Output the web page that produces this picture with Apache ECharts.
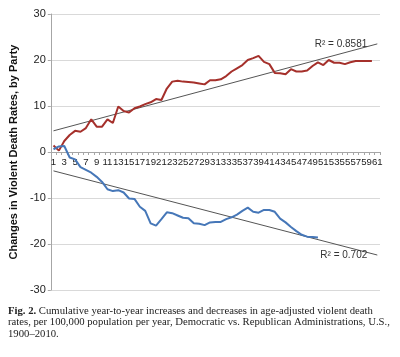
<!DOCTYPE html>
<html>
<head>
<meta charset="utf-8">
<script src="https://cdn.jsdelivr.net/npm/echarts@6/dist/echarts.min.js"></script>
<style>
html,body{margin:0;padding:0;background:#fff;}
#c{width:400px;height:357px;}
</style>
</head>
<body>
<div id="c"></div>
<script>
// categories 1..61
const categories = ['1','2','3','4','5','6','7','8','9','10','11','12','13','14','15','16','17','18','19','20','21','22','23','24','25','26','27','28','29','30','31','32','33','34','35','36','37','38','39','40','41','42','43','44','45','46','47','48','49','50','51','52','53','54','55','56','57','58','59','60','61'];

// Red series values for categories 1..60
const redValues = [1.4,0.3,2.4,3.7,4.6,4.4,5.2,7.1,5.5,5.5,7.1,6.3,9.9,8.9,8.6,9.5,9.9,10.4,10.8,11.5,11.3,13.8,15.3,15.5,15.3,15.2,15.1,14.9,14.7,15.6,15.6,15.8,16.5,17.5,18.2,18.9,20.0,20.4,20.9,19.6,19.1,17.2,17.1,16.9,18.0,17.5,17.5,17.7,18.7,19.5,18.9,20.0,19.4,19.4,19.1,19.5,19.8,19.8,19.8,19.8];

// Blue series values for categories 1..50
const blueValues = [0.6,1.2,1.3,-1.2,-1.6,-3.3,-3.9,-4.5,-5.4,-6.5,-8.1,-8.5,-8.3,-8.8,-10.1,-10.2,-11.9,-12.8,-15.5,-16.0,-14.6,-13.1,-13.3,-13.8,-14.3,-14.4,-15.5,-15.6,-15.9,-15.3,-15.2,-15.2,-14.6,-14.2,-13.6,-12.8,-12.1,-13.0,-13.2,-12.6,-12.6,-13.0,-14.5,-15.3,-16.3,-17.2,-18.0,-18.4,-18.5,-18.6];

// Linear trendline end points [category, value]
const redTrend = [['1', 4.6], ['61', 23.5]];
const blueTrend = [['1', -4.1], ['61', -22.4]];
const redR2 = 'R² = 0.8581';
const blueR2 = 'R² = 0.702';

const yTicks = [-30, -20, -10, 0, 10, 20, 30];

const captionLines = [
  'Cumulative year-to-year increases and decreases in age-adjusted violent death',
  'rates, per 100,000 population per year, Democratic vs. Republican Administrations, U.S.,',
  '1900–2010.'
];

const chart = echarts.init(document.getElementById('c'), null, {renderer: 'canvas'});

const font = 'Liberation Sans, Arial, sans-serif';
const gridTop = 14, gridBottom = 67, chartH = 357;
const plotH = chartH - gridTop - gridBottom;
// distance from bottom of grid to the zero line, computed from the y range
const zeroOffset = plotH * (0 - yTicks[0]) / (yTicks[yTicks.length - 1] - yTicks[0]);

function trendLabel(text) {
  return {
    show: true,
    formatter: function (p) { return p.dataIndex === 1 ? text : ''; },
    position: 'left',
    distance: 10,
    fontSize: 10,
    color: '#333',
    fontFamily: font
  };
}

chart.setOption({
  animation: false,
  backgroundColor: '#fff',
  grid: {left: 42, right: 20, top: gridTop, bottom: gridBottom, containLabel: false},
  xAxis: {
    type: 'category',
    data: categories,
    boundaryGap: true,
    position: 'bottom',
    offset: -zeroOffset,
    axisLine: {onZero: false, lineStyle: {color: '#a6a6a6', width: 1}},
    axisTick: {show: true, interval: 0, length: 3, lineStyle: {color: '#a6a6a6'}},
    axisLabel: {interval: 1, margin: 5, fontSize: 9.6, color: '#222', fontFamily: font,
                hideOverlap: false, showMaxLabel: true, showMinLabel: true},
    splitLine: {show: false}
  },
  yAxis: {
    type: 'value',
    min: yTicks[0],
    max: yTicks[yTicks.length - 1],
    interval: 10,
    name: 'Changes in Violent Death Rates, by Party',
    nameLocation: 'middle',
    nameGap: 30,
    nameRotate: 90,
    nameTextStyle: {fontSize: 11, fontWeight: 'bold', color: '#111', fontFamily: font},
    axisLine: {show: true, lineStyle: {color: '#a6a6a6'}},
    axisTick: {show: true, length: 3, lineStyle: {color: '#a6a6a6'}},
    axisLabel: {fontSize: 11, color: '#222', margin: 5, fontFamily: font},
    splitLine: {lineStyle: {color: '#d9d9d9', width: 1}}
  },
  series: [
    {
      type: 'line',
      data: redValues,
      symbol: 'none',
      lineStyle: {color: '#a5302b', width: 2},
      z: 3
    },
    {
      type: 'line',
      data: blueValues,
      symbol: 'none',
      lineStyle: {color: '#4677b8', width: 2},
      z: 3
    },
    {
      type: 'line',
      data: redTrend,
      symbol: 'circle',
      symbolSize: 0,
      showSymbol: true,
      lineStyle: {color: '#555', width: 1},
      z: 2,
      label: trendLabel(redR2)
    },
    {
      type: 'line',
      data: blueTrend,
      symbol: 'circle',
      symbolSize: 0,
      showSymbol: true,
      lineStyle: {color: '#555', width: 1},
      z: 2,
      label: trendLabel(blueR2)
    }
  ],
  graphic: [
    {
      type: 'text',
      left: 8,
      top: 305,
      style: {
        text: '{b|Fig. 2.} ' + captionLines[0] + '\n' + captionLines[1] + '\n' + captionLines[2],
        font: '10.7px "Liberation Serif", serif',
        fill: '#222',
        lineHeight: 11.7,
        rich: {
          b: {fontWeight: 'bold', fontFamily: 'Liberation Serif', fontSize: 10.7, fill: '#222'}
        }
      }
    }
  ]
});
</script>
</body>
</html>
